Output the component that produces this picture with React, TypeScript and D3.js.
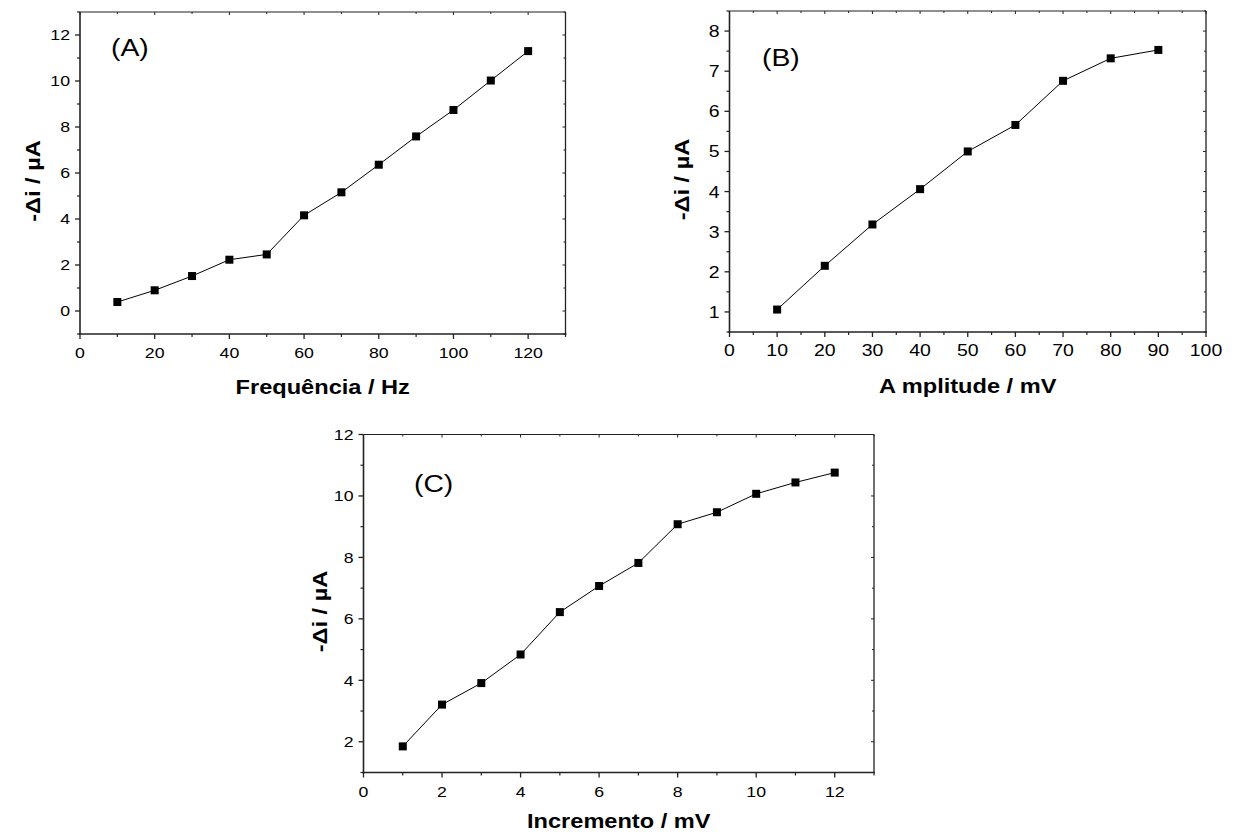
import React, { useEffect, useRef } from "react";
import * as d3 from "d3";

// Panel A: frequency
const freqX = [10, 20, 30, 40, 50, 60, 70, 80, 90, 100, 110, 120];
const freqY = [0.39, 0.9, 1.52, 2.23, 2.46, 4.16, 5.16, 6.36, 7.59, 8.74, 10.02, 11.3];
// Panel B: amplitude
const ampX = [10, 20, 30, 40, 50, 60, 70, 80, 90];
const ampY = [1.06, 2.15, 3.18, 4.06, 5.0, 5.66, 6.76, 7.32, 7.53];
// Panel C: increment
const incX = [1, 2, 3, 4, 5, 6, 7, 8, 9, 10, 11, 12];
const incY = [1.85, 3.21, 3.91, 4.84, 6.22, 7.07, 7.82, 9.08, 9.47, 10.07, 10.44, 10.76];

const xTicksA = [0, 20, 40, 60, 80, 100, 120];
const yTicksA = [0, 2, 4, 6, 8, 10, 12];
const xTicksB = [0, 10, 20, 30, 40, 50, 60, 70, 80, 90, 100];
const yTicksB = [1, 2, 3, 4, 5, 6, 7, 8];
const xTicksC = [0, 2, 4, 6, 8, 10, 12];
const yTicksC = [2, 4, 6, 8, 10, 12];

const yTitle = "-\u0394i / \u00b5A";

interface Panel {
  x: number[];
  y: number[];
  xDom: [number, number];
  yDom: [number, number];
  xTicks: number[];
  yTicks: number[];
  xMinorStep: number;
  yMinorStep: number;
  box: { l: number; r: number; t: number; b: number };
  xTitle: string;
  xTitleOff: number;
  tag: string;
  tagPos: [number, number];
  yTitleX: number;
  tickFont: number;
}

const panels: Panel[] = [
  {
    x: freqX, y: freqY, xDom: [0, 130], yDom: [-1, 13],
    xTicks: xTicksA, yTicks: yTicksA, xMinorStep: 10, yMinorStep: 1,
    box: { l: 80, r: 565.5, t: 12, b: 334 },
    xTitle: "Frequência / Hz", xTitleOff: 60, tag: "(A)", tagPos: [111, 56], yTitleX: 40, tickFont: 15,
  },
  {
    x: ampX, y: ampY, xDom: [0, 100], yDom: [0.5, 8.5],
    xTicks: xTicksB, yTicks: yTicksB, xMinorStep: 5, yMinorStep: 0.5,
    box: { l: 729.5, r: 1206, t: 11, b: 332 },
    xTitle: "A mplitude / mV", xTitleOff: 61, tag: "(B)", tagPos: [762, 66], yTitleX: 689, tickFont: 16.5,
  },
  {
    x: incX, y: incY, xDom: [0, 13], yDom: [1, 12],
    xTicks: xTicksC, yTicks: yTicksC, xMinorStep: 1, yMinorStep: 1,
    box: { l: 363.5, r: 874, t: 434.5, b: 772.5 },
    xTitle: "Incremento / mV", xTitleOff: 55, tag: "(C)", tagPos: [414, 492], yTitleX: 327, tickFont: 15,
  },
];

const FONT = "'Liberation Sans', Arial, Helvetica, sans-serif";
const SX = 1.18;

export default function App() {
  const ref = useRef<SVGSVGElement>(null);
  useEffect(() => {
    const svg = d3.select(ref.current);
    svg.selectAll("*").remove();
    const txt = (
      g: d3.Selection<SVGGElement, unknown, null, undefined>,
      x: number, y: number, s: string, size: number, anchor: string,
      opts: { bold?: boolean; rotate?: boolean; dy?: string } = {}
    ) => {
      g.append("text")
        .attr("transform", `translate(${x},${y})${opts.rotate ? " rotate(-90)" : ""} scale(${SX},1)`)
        .attr("text-anchor", anchor)
        .attr("dy", opts.dy || null)
        .attr("font-family", FONT)
        .attr("font-size", size)
        .attr("font-weight", opts.bold ? "bold" : "normal")
        .attr("fill", "#000")
        .text(s);
    };
    panels.forEach((p) => {
      const { l, r, t, b } = p.box;
      const xs = d3.scaleLinear().domain(p.xDom).range([l, r]);
      const ys = d3.scaleLinear().domain(p.yDom).range([b, t]);
      const g = svg.append("g") as unknown as d3.Selection<SVGGElement, unknown, null, undefined>;
      const axisColor = "#222";

      const minorX = d3.range(p.xDom[0], p.xDom[1] + 1e-9, p.xMinorStep).filter(
        (v) => !p.xTicks.some((m) => Math.abs(m - v) < 1e-9)
      );
      const minorY = d3.range(Math.ceil(p.yDom[0] / p.yMinorStep) * p.yMinorStep, p.yDom[1] + 1e-9, p.yMinorStep).filter(
        (v) => !p.yTicks.some((m) => Math.abs(m - v) < 1e-9)
      );

      p.xTicks.forEach((v) => {
        g.append("line").attr("x1", xs(v)).attr("x2", xs(v)).attr("y1", b).attr("y2", b + 5)
          .attr("stroke", axisColor).attr("stroke-width", 1.3);
        txt(g, xs(v), b + 24, String(v), p.tickFont, "middle");
        g.append("line").attr("x1", xs(v)).attr("x2", xs(v)).attr("y1", t).attr("y2", t + 3)
          .attr("stroke", axisColor).attr("stroke-width", 1);
      });
      minorX.forEach((v) => {
        g.append("line").attr("x1", xs(v)).attr("x2", xs(v)).attr("y1", b).attr("y2", b + 3)
          .attr("stroke", axisColor).attr("stroke-width", 1.2);
        g.append("line").attr("x1", xs(v)).attr("x2", xs(v)).attr("y1", t).attr("y2", t + 2)
          .attr("stroke", axisColor).attr("stroke-width", 1);
      });
      p.yTicks.forEach((v) => {
        g.append("line").attr("x1", l - 5).attr("x2", l).attr("y1", ys(v)).attr("y2", ys(v))
          .attr("stroke", axisColor).attr("stroke-width", 1.3);
        txt(g, l - 10, ys(v), String(v), p.tickFont, "end", { dy: "0.36em" });
        g.append("line").attr("x1", r - 3).attr("x2", r).attr("y1", ys(v)).attr("y2", ys(v))
          .attr("stroke", axisColor).attr("stroke-width", 1);
      });
      minorY.forEach((v) => {
        g.append("line").attr("x1", l - 3).attr("x2", l).attr("y1", ys(v)).attr("y2", ys(v))
          .attr("stroke", axisColor).attr("stroke-width", 1.2);
        g.append("line").attr("x1", r - 2).attr("x2", r).attr("y1", ys(v)).attr("y2", ys(v))
          .attr("stroke", axisColor).attr("stroke-width", 1);
      });

      // frame
      g.append("line").attr("x1", l).attr("x2", l).attr("y1", t).attr("y2", b + 1).attr("stroke", axisColor).attr("stroke-width", 1.6);
      g.append("line").attr("x1", l - 1).attr("x2", r + 1).attr("y1", b).attr("y2", b).attr("stroke", axisColor).attr("stroke-width", 1.6);
      g.append("line").attr("x1", l).attr("x2", r).attr("y1", t).attr("y2", t).attr("stroke", axisColor).attr("stroke-width", 1.1);
      g.append("line").attr("x1", r).attr("x2", r).attr("y1", t).attr("y2", b).attr("stroke", axisColor).attr("stroke-width", 1.3);

      // data
      const pts = p.x.map((xv, i) => [xv, p.y[i]] as [number, number]);
      const line = d3.line<[number, number]>().x((d) => xs(d[0])).y((d) => ys(d[1]));
      g.append("path").attr("d", line(pts)).attr("fill", "none").attr("stroke", "#000").attr("stroke-width", 1);
      g.selectAll(null).data(pts).enter().append("rect")
        .attr("x", (d) => xs(d[0]) - 4).attr("y", (d) => ys(d[1]) - 4)
        .attr("width", 8).attr("height", 8).attr("fill", "#000");

      // titles
      txt(g, (l + r) / 2, b + p.xTitleOff, p.xTitle, 20, "middle", { bold: true });
      txt(g, p.yTitleX, (t + b) / 2 + 8, yTitle, 20, "middle", { bold: true, rotate: true });
      txt(g, p.tagPos[0], p.tagPos[1], p.tag, 24, "start");
    });
  }, []);
  return (
    <svg ref={ref} width={1237} height={836} style={{ position: "absolute", left: 0, top: 0, background: "#fff" }} />
  );
}
